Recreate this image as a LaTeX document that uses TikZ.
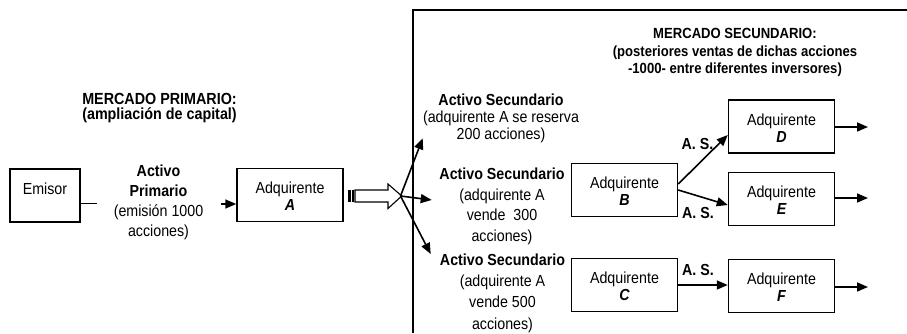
\documentclass[tikz,border=0pt]{standalone}
\usepackage{fontspec}
\setmainfont{Liberation Sans}[FakeStretch=0.89]
\usetikzlibrary{arrows.meta}
\begin{document}
\begin{tikzpicture}[x=1pt,y=-1pt,
  lw/.style={line width=1.5pt},
  box/.style={draw,lw,minimum width=106pt,minimum height=53pt,inner sep=0pt,align=center,
    font=\fontsize{16}{17}\selectfont},
  txt/.style={align=center,inner sep=0pt,anchor=north},
  arr/.style={line width=1.6pt,-{Triangle[length=11pt,width=9pt]}},
  ln/.style={line width=1.6pt},
  aslabel/.style={font=\fontsize{16}{17}\selectfont\bfseries,anchor=base,inner sep=0pt}
]
\useasboundingbox[fill=white] (0,0) rectangle (907,333);

% secondary market frame
\draw[lw] (413,333) -- (413,10) -- (907,10);

% headings
\node[txt,font=\fontsize{16.1}{15.5}\selectfont\bfseries] (lhead) at (159.5,92)
  {\rule{0pt}{12pt}MERCADO PRIMARIO:\\(ampliación de capital)};
\node[txt,font=\fontsize{14.7}{17.5}\selectfont\bfseries] (rhead) at (735,26.3)
  {\rule{0pt}{12pt}MERCADO SECUNDARIO:\\(posteriores ventas de dichas acciones\\-1000- entre diferentes inversores)};

% boxes
\node[box,minimum width=70pt] (emisor) at (45,195.5) {\rule{0pt}{14pt}Emisor\\\mbox{}};
\node[box] (a) at (290,195) {\rule{0pt}{14pt}Adquirente\\{\fontsize{16}{17}\selectfont\bfseries\itshape A}};
\node[box] (b) at (624.5,190) {\rule{0pt}{14pt}Adquirente\\{\fontsize{16}{17}\selectfont\bfseries\itshape B}};
\node[box] (c) at (624.5,285) {\rule{0pt}{14pt}Adquirente\\{\fontsize{16}{17}\selectfont\bfseries\itshape C}};
\node[box] (d) at (781.5,126.5) {\rule{0pt}{14pt}Adquirente\\{\fontsize{16}{17}\selectfont\bfseries\itshape D}};
\node[box] (e) at (781.5,199) {\rule{0pt}{14pt}Adquirente\\{\fontsize{16}{17}\selectfont\bfseries\itshape E}};
\node[box] (f) at (781.5,286) {\rule{0pt}{14pt}Adquirente\\{\fontsize{16}{17}\selectfont\bfseries\itshape F}};

% primary asset text
\node[txt,font=\fontsize{16}{20}\selectfont] (prim) at (158.5,164)
  {\rule{0pt}{12pt}\textbf{Activo}\\\textbf{Primario}\\(emisión 1000\\acciones)};

% secondary asset texts
\node[txt,font=\fontsize{16}{16.7}\selectfont] (g1) at (501,93.7)
  {\rule{0pt}{12pt}\textbf{Activo Secundario}\\(adquirente A se reserva\\200 acciones)};
\node[txt,font=\fontsize{16}{20.5}\selectfont] (g2) at (502,167.5)
  {\rule{0pt}{12pt}\textbf{Activo Secundario}\\(adquirente A\\vende\ \ 300\\acciones)};
\node[txt,font=\fontsize{16}{21.3}\selectfont] (g3) at (502.5,253)
  {\rule{0pt}{12pt}\textbf{Activo Secundario}\\(adquirente A\\vende 500\\acciones)};

% emisor -> A
\coordinate (e1) at (97,203.5);
\coordinate (ea) at (221,204);
\draw[ln] (emisor.east |- e1) -- (e1);
\draw[arr] (ea) -- (ea -| a.west);

% block (striped) arrow
\fill (348,190) rectangle (351,202);
\fill (352,190) rectangle (353.6,202);
\draw[line width=1.1pt,fill=white] (355,190) -- (388,190) -- (388,184) -- (401.7,196)
  -- (388,208.5) -- (388,202) -- (355,202) -- cycle;
\coordinate (hub) at (400.5,196);
\coordinate (t1) at (422.7,138.3);
\coordinate (t2) at (431.7,200);
\coordinate (t3) at (430.7,254);
\draw[arr] (hub) -- (t1);
\draw[arr] (hub) -- (t2);
\draw[arr] (hub) -- (t3);

% secondary trades
\draw[arr] ([yshift=6pt]b.east) -- ([yshift=-8.5pt]d.west);
\draw[arr] (b.east) -- ([yshift=-6pt]e.west);
\draw[arr] (c.east) -- (c.east -| f.west);

\node[aslabel] (as1) at (697.5,149) {A. S.};
\node[aslabel] (as2) at (698,218) {A. S.};
\node[aslabel] (as3) at (698,275) {A. S.};

% outgoing arrows
\coordinate (o1) at (868,127);
\coordinate (o2) at (868,198);
\coordinate (o3) at (868,287);
\draw[arr] (d.east |- o1) -- (o1);
\draw[arr] (e.east |- o2) -- (o2);
\draw[arr] (f.east |- o3) -- (o3);
\end{tikzpicture}
\end{document}
